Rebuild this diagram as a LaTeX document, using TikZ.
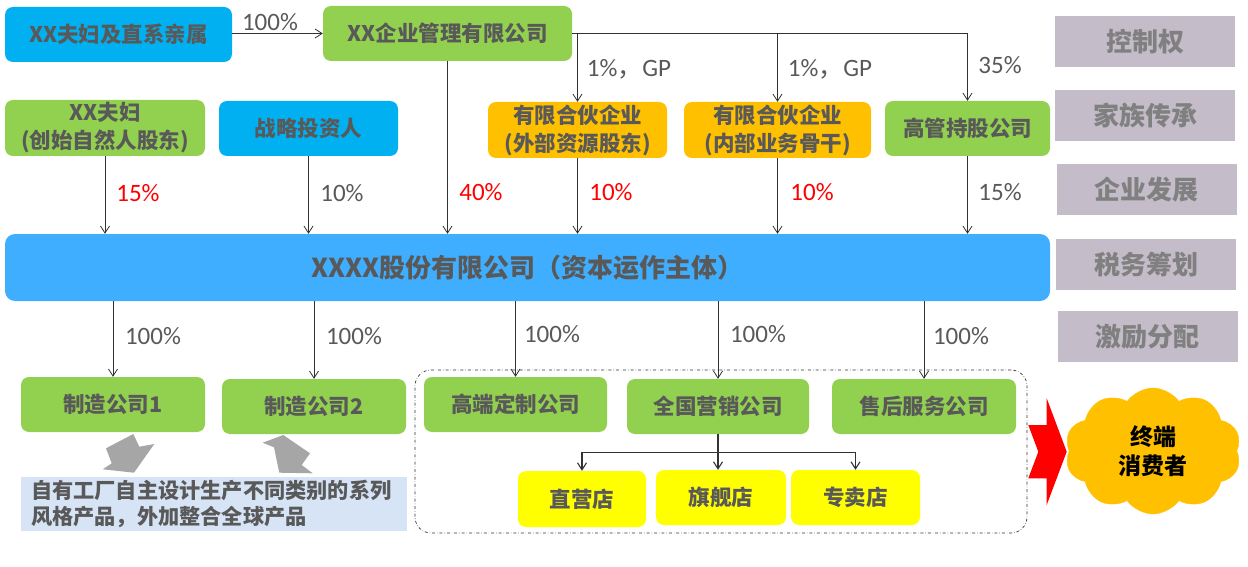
\documentclass[tikz,border=0pt]{standalone}
\usepackage{fontspec}
\setmainfont{Noto Sans CJK SC}
\newfontfamily\cjkf{Noto Sans CJK SC}
\newfontfamily\latf{Carlito}
\usetikzlibrary{arrows.meta,shapes.symbols,calc}
\definecolor{cblue}{RGB}{0,176,240}
\definecolor{cgreen}{RGB}{146,208,80}
\definecolor{corange}{RGB}{255,192,0}
\definecolor{cmain}{RGB}{64,174,255}
\definecolor{cpanel}{RGB}{196,188,200}
\definecolor{ctext}{RGB}{89,89,89}
\definecolor{cptext}{RGB}{128,128,128}
\definecolor{cdesc}{RGB}{214,228,246}
\definecolor{cyel}{RGB}{255,255,0}
\definecolor{cgrayarr}{RGB}{166,166,166}
\definecolor{cline}{RGB}{50,50,50}
\tikzset{
  box/.style={rounded corners=8pt, inner sep=0pt, text=ctext, align=center,
    font=\cjkf\bfseries\fontsize{21.5}{28}\selectfont},
  panel/.style={fill=cpanel, inner sep=0pt, minimum width=180pt, minimum height=51pt,
    text=cptext, font=\cjkf\bfseries\fontsize{26}{30}\selectfont},
  pct/.style={text=ctext, inner sep=0pt, font=\latf\fontsize{25}{28}\selectfont},
  pctr/.style={pct, text=red},
  arr/.style={draw=cline, line width=0.8pt, -{Straight Barb[length=7pt,width=9pt]}},
  ln/.style={draw=cline, line width=0.8pt},
}
\begin{document}
\begin{tikzpicture}[x=1pt,y=-1pt]
\useasboundingbox (0,0) rectangle (1248,567);
% top row
\node[box, fill=cblue, minimum width=227pt, minimum height=55pt] (A) at (118.5,34.5) {XX夫妇及直系亲属};
\node[box, fill=cgreen, minimum width=249pt, minimum height=55pt] (B) at (447.5,33.5) {XX企业管理有限公司};
% second row
\node[box, fill=cgreen, minimum width=200pt, minimum height=56pt] (F) at (105,128) {XX夫妇\\(创始自然人股东)};
\node[box, fill=cblue, minimum width=179pt, minimum height=55pt] (S) at (308.5,128.5) {战略投资人};
\node[box, fill=corange, minimum width=179pt, minimum height=56pt] (P1) at (577.5,130) {有限合伙企业\\(外部资源股东)};
\node[box, fill=corange, minimum width=187pt, minimum height=56pt] (P2) at (777.5,130) {有限合伙企业\\(内部业务骨干)};
\node[box, fill=cgreen, minimum width=165pt, minimum height=55pt] (H) at (967.5,128.5) {高管持股公司};
% main bar
\node[box, fill=cmain, minimum width=1045pt, minimum height=67pt, rounded corners=10pt,
  font=\cjkf\bfseries\fontsize{26}{30}\selectfont] (M) at (527.5,267.5) {XXXX股份有限公司（资本运作主体）};
% right panel
\node[panel] (R1) at (1145,41.5) {控制权};
\node[panel] (R2) at (1145,115.5) {家族传承};
\node[panel] (R3) at (1146.5,189.5) {企业发展};
\node[panel] (R4) at (1146,264.5) {税务筹划};
\node[panel] (R5) at (1147.5,336.5) {激励分配};
% dashed group
\node[draw=cline, dash dot, line width=0.7pt, rounded corners=16pt, minimum width=612pt, minimum height=163pt, inner sep=0pt] (D) at (721,451.5) {};
% bottom boxes
\node[box, fill=cgreen, minimum width=184pt, minimum height=55pt] (C1) at (113,404.5) {制造公司1};
\node[box, fill=cgreen, minimum width=184pt, minimum height=55pt] (C2) at (314,406.5) {制造公司2};
\node[box, fill=cgreen, minimum width=183pt, minimum height=55pt] (G) at (515.5,404.5) {高端定制公司};
\node[box, fill=cgreen, minimum width=182pt, minimum height=55pt] (N) at (718,406.5) {全国营销公司};
\node[box, fill=cgreen, minimum width=184pt, minimum height=55pt] (AS) at (924,406.5) {售后服务公司};
% stores
\node[box, fill=cyel, minimum width=128pt, minimum height=56pt] (Z1) at (582,499) {直营店};
\node[box, fill=cyel, minimum width=130pt, minimum height=55pt] (Z2) at (721,497.5) {旗舰店};
\node[box, fill=cyel, minimum width=129pt, minimum height=55pt] (Z3) at (855.5,497.5) {专卖店};
% description
\node[fill=cdesc, minimum width=386pt, minimum height=54pt, inner xsep=10pt, inner ysep=0pt,
  text width=366pt, align=left, text=ctext, font=\cjkf\bfseries\fontsize{21.2}{26}\selectfont] (T) at (214,504)
  {自有工厂自主设计生产不同类别的系列\\风格产品，外加整合全球产品};
% grey block arrows
\fill[cgrayarr] (133.3,434) -- (139.3,446.7) -- (154.3,444) -- (134,472.7) -- (102.7,469.3) -- (111.7,463.3) -- (106,448.3) -- cycle;
\fill[cgrayarr] (283.3,435) -- (262.7,442.7) -- (274,447.3) -- (279.3,472.7) -- (312.7,473.3) -- (301.7,465) -- (310,453.3) -- cycle;
% red arrow
\fill[red] (1028.3,425) -- (1046.7,425) -- (1046.7,398.3) -- (1066.7,451.7) -- (1046.7,505) -- (1046.7,478.3) -- (1028.3,478.3) -- (1038.3,451.7) -- cycle;
% cloud
\node[cloud, cloud puffs=10, cloud puff arc=110, aspect=1.5, fill=corange, draw=corange,
  minimum width=176pt, minimum height=126pt, inner sep=0pt, align=center,
  font=\cjkf\bfseries\fontsize{23}{29}\selectfont] (K) at (1153,451) {终端\\消费者};
% connectors top
\draw[arr] (A.east |- B.west) -- (B.west);
\node[pct] (l0) at (270,22) {100\%};
\draw[ln] (B.east) -- (B.east -| H.north);
\draw[arr] (B.east -| H.north) -- (H.north);
\draw[arr] (B.east -| P1.north) -- (P1.north);
\draw[arr] (B.east -| P2.north) -- (P2.north);
\node[pct] (l1) at (629,69) {1\%{\cjkf ，}GP};
\node[pct] (l2) at (830,69) {1\%{\cjkf ，}GP};
\node[pct] (l3) at (1000,65) {35\%};
% down to main
\draw[arr] (F.south) -- (F.south |- M.north);
\draw[arr] (S.south) -- (S.south |- M.north);
\draw[arr] (B.south) -- (B.south |- M.north);
\draw[arr] (P1.south) -- (P1.south |- M.north);
\draw[arr] (P2.south) -- (P2.south |- M.north);
\draw[arr] (H.south) -- (H.south |- M.north);
\node[pctr] (l4) at (138,193) {15\%};
\node[pct] (l5) at (342,193) {10\%};
\node[pctr] (l6) at (481,192) {40\%};
\node[pctr] (l7) at (611,192) {10\%};
\node[pctr] (l8) at (812,192) {10\%};
\node[pct] (l9) at (1000,192) {15\%};
% main down
\draw[arr] (M.south -| C1.north) -- (C1.north);
\draw[arr] (M.south -| C2.north) -- (C2.north);
\draw[arr] (M.south -| G.north) -- (G.north);
\draw[arr] (M.south -| N.north) -- (N.north);
\draw[arr] (M.south -| AS.north) -- (AS.north);
\node[pct] (m1) at (153,336) {100\%};
\node[pct] (m2) at (354,336) {100\%};
\node[pct] (m3) at (552,334) {100\%};
\node[pct] (m4) at (758,334) {100\%};
\node[pct] (m5) at (961,336) {100\%};
% marketing to stores
\coordinate (nb) at ($(N.south)+(0,18)$);
\draw[ln, line width=1.3pt] (N.south) -- (nb);
\draw[ln, line width=1.3pt] (nb -| Z1.north) -- (nb -| Z3.north);
\draw[arr, line width=1.1pt] (nb -| Z1.north) -- (Z1.north);
\draw[arr, line width=1.1pt] (nb) -- (nb |- Z2.north);
\draw[arr, line width=1.1pt] (nb -| Z3.north) -- (Z3.north);
\end{tikzpicture}
\end{document}
